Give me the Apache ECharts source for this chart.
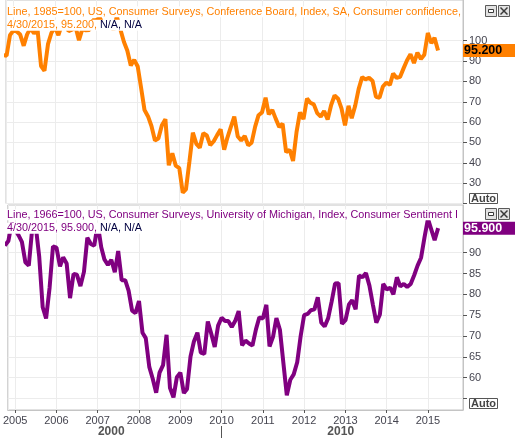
<!DOCTYPE html>
<html><head><meta charset="utf-8">
<script src="https://cdn.jsdelivr.net/npm/echarts@6/dist/echarts.min.js"></script>
<style>html,body{margin:0;padding:0;background:#fff}#c{width:515px;height:438px}</style>
</head><body><div id="c"></div>
<script>
// ---- data (monthly, first month Oct 2004) ----
const firstMonth = '2004-10';
const confBoard = [
  92.9, 92.6, 102.7,
  105.1, 104.4, 103.0, 97.5, 103.1, 106.2, 103.6, 105.5, 87.5, 85.2, 98.3, 103.8,
  106.8, 102.7, 107.5, 109.8, 104.7, 105.4, 107.0, 100.2, 105.9, 105.1, 105.3, 110.0,
  110.2, 111.2, 108.2, 106.3, 108.5, 105.3, 111.9, 105.6, 99.5, 95.2, 87.8, 90.6,
  87.3, 76.4, 65.9, 62.8, 58.1, 51.0, 51.9, 58.5, 61.4, 38.8, 44.7, 38.6,
  37.4, 25.3, 26.9, 40.8, 54.8, 49.3, 47.4, 54.5, 53.4, 48.7, 50.6, 53.6,
  56.5, 46.4, 52.3, 57.7, 62.7, 52.9, 51.0, 53.2, 48.6, 49.9, 57.8, 63.4,
  64.8, 72.0, 63.8, 66.0, 61.7, 57.6, 59.2, 45.2, 46.4, 40.9, 55.2, 64.8,
  61.5, 71.6, 69.5, 68.7, 64.4, 62.7, 65.4, 61.3, 68.4, 73.1, 71.5, 66.7,
  58.4, 68.0, 61.9, 68.1, 76.2, 82.1, 81.0, 81.8, 80.2, 72.4, 72.0, 77.5,
  79.4, 78.3, 83.9, 81.7, 82.2, 86.4, 90.3, 93.4, 89.0, 94.1, 91.0, 93.1,
  103.8, 98.8, 101.4, 95.2
];
const michigan = [
  91.7, 92.8, 97.1,
  95.5, 94.1, 92.6, 87.7, 86.9, 96.0, 96.5, 89.1, 76.9, 74.2, 81.6, 91.5,
  91.2, 86.7, 88.9, 87.4, 79.1, 84.9, 84.7, 82.0, 85.4, 93.6, 92.1, 91.7,
  96.9, 91.3, 88.4, 87.1, 88.3, 85.3, 90.4, 83.4, 83.4, 80.9, 76.1, 75.5,
  78.4, 70.8, 69.5, 62.6, 59.8, 56.4, 61.2, 63.0, 70.3, 57.6, 55.3, 60.1,
  61.2, 56.3, 57.3, 65.1, 68.7, 70.8, 66.0, 65.7, 73.5, 70.6, 67.4, 72.5,
  74.4, 73.6, 73.6, 72.2, 73.6, 76.0, 67.8, 68.9, 68.2, 67.7, 71.6, 74.5,
  74.2, 77.5, 67.5, 69.8, 74.3, 71.5, 63.7, 55.8, 59.5, 60.8, 63.7, 69.9,
  75.0, 75.3, 76.2, 76.4, 79.3, 73.2, 72.3, 74.3, 78.3, 82.6, 82.7, 72.9,
  73.8, 77.6, 78.6, 76.4, 84.5, 84.1, 85.1, 82.1, 77.5, 73.2, 75.1, 82.5,
  81.2, 81.6, 80.0, 84.1, 81.9, 82.5, 81.8, 82.5, 84.6, 86.9, 88.8, 93.6,
  98.1, 95.4, 93.0, 95.9
];
const topTickValues = [20, 30, 40, 50, 60, 70, 80, 90, 100];
const topLabelValues = [30, 40, 50, 60, 70, 80, 90, 100];
const botTickValues = [55, 60, 65, 70, 75, 80, 85, 90];
const botLabelValues = [60, 65, 70, 75, 80, 85, 90];
const decadeLabels = ['2000', '2010'];
const decadeLabelDates = ['2007-05-01', '2012-11-20'];
const decadeTickDates = ['2010-01-01'];
const lastDateText = '4/30/2015';
const topTitle = 'Line, 1985=100, US, Consumer Surveys, Conference Board, Index, SA, Consumer confidence,';
const botTitle = 'Line, 1966=100, US, Consumer Surveys, University of Michigan, Index, Consumer Sentiment I';

// ---- build ----
function ts(s) { const [y, m, d] = s.split('-').map(Number); return new Date(y, m - 1, d).getTime(); }
function monthList(start, n) {
  const [y, m] = start.split('-').map(Number);
  const out = [];
  for (let i = 0; i < n; i++) {
    const t = (m - 1) + i;
    out.push(new Date(y + Math.floor(t / 12), t % 12, 1).getTime());
  }
  return out;
}
const months = monthList(firstMonth, confBoard.length);
const ORANGE = '#ff8000', PURPLE = '#800080', NAVY = '#000040';
const GRIDC = '#ececec', BORDER = '#c4c4c4', LBL = '#454550';
const X_MIN = ts('2004-10-27'), X_MAX = ts('2015-11-07');
const YEAR = 365 * 86400000;
const FONT = 'Liberation Sans';

const lastConf = confBoard[confBoard.length - 1];
const lastMich = michigan[michigan.length - 1];

function header(line1, color, last) {
  const tok = c => ({ color: c, fontSize: 10.8, fontWeight: 'normal', lineHeight: 13.5, fontFamily: FONT, backgroundColor: '#fff' });
  return {
    text: '{a|' + line1 + '}\n{a|' + lastDateText + ', ' + last.toFixed(3) + ', }{n|N/A, N/A}',
    textStyle: { fontWeight: 'normal', fontSize: 10.8, rich: { a: tok(color), n: tok(NAVY) } }
  };
}

function icons(y) {
  return [
    { type: 'rect', shape: { x: 485.5, y: y + 0.5, width: 11, height: 11 }, style: { fill: '#e2e2e2', stroke: '#5a5a5a', lineWidth: 1 }, z: 20 },
    { type: 'rect', shape: { x: 488.5, y: y + 4.5, width: 5, height: 3 }, style: { fill: '#fff', stroke: '#3a3a3a', lineWidth: 1 }, z: 21 },
    { type: 'rect', shape: { x: 498.5, y: y + 0.5, width: 11, height: 11 }, style: { fill: '#e2e2e2', stroke: '#5a5a5a', lineWidth: 1 }, z: 20 },
    { type: 'line', shape: { x1: 500.5, y1: y + 2.5, x2: 507.5, y2: y + 9.5 }, style: { stroke: '#3a3a3a', lineWidth: 1.5 }, z: 21 },
    { type: 'line', shape: { x1: 507.5, y1: y + 2.5, x2: 500.5, y2: y + 9.5 }, style: { stroke: '#3a3a3a', lineWidth: 1.5 }, z: 21 }
  ];
}
function autoBox(y) {
  return [
    { type: 'rect', shape: { x: 469.5, y: y + 0.5, width: 28, height: 10 }, style: { fill: '#fff', stroke: '#555', lineWidth: 1 }, z: 20 },
    { type: 'text', x: 483.5, y: y + 6, style: { text: 'Auto', fill: '#444', font: 'bold 11px ' + FONT, align: 'center', verticalAlign: 'middle' }, z: 21 }
  ];
}

function markLabel(val, bg, fg) {
  return {
    silent: true, symbol: 'none', animation: false,
    lineStyle: { color: 'rgba(0,0,0,0)', width: 0, type: 'solid' },
    label: {
      show: true, position: 'end', distance: 0,
      formatter: p => Number(p.value).toFixed(3),
      backgroundColor: bg, color: fg, fontWeight: 'bold', fontSize: 12.5, fontFamily: FONT,
      width: 51, height: 12, lineHeight: 12, padding: [1, 0, 0, 1], align: 'left'
    },
    emphasis: { disabled: true },
    data: [{ yAxis: val }]
  };
}

const timeAxisBase = {
  type: 'time', min: X_MIN, max: X_MAX,
  minInterval: YEAR, maxInterval: YEAR + 86400000 * 1.5,
  splitLine: { show: true, lineStyle: { color: GRIDC, width: 1 } }
};

const option = {
  animation: false,
  backgroundColor: '#fff',
  textStyle: { fontFamily: FONT },
  title: [
    Object.assign({ left: 7, top: 5, padding: 0, z: 10 }, header(topTitle, ORANGE, lastConf)),
    Object.assign({ left: 7, top: 208, padding: 0, z: 10 }, header(botTitle, PURPLE, lastMich))
  ],
  grid: [
    { left: 6, right: 52, top: 0, height: 203.5, show: true, borderColor: BORDER, borderWidth: 1 },
    { left: 6, right: 52, top: 205, height: 205, show: true, borderColor: BORDER, borderWidth: 1 }
  ],
  xAxis: [
    Object.assign({}, timeAxisBase, {
      gridIndex: 0, axisLine: { show: false }, axisTick: { show: false }, axisLabel: { show: false }
    }),
    Object.assign({}, timeAxisBase, {
      gridIndex: 1,
      axisLine: { show: true, lineStyle: { color: BORDER } },
      axisTick: { show: true, length: 3, lineStyle: { color: '#555' } },
      axisLabel: { show: true, formatter: '{yyyy}', color: LBL, fontSize: 11, margin: 5, showMinLabel: false, showMaxLabel: false }
    }),
    {
      type: 'value', gridIndex: 1, min: X_MIN, max: X_MAX, position: 'bottom', offset: 16,
      axisLine: { show: false }, splitLine: { show: false },
      axisTick: { show: true, customValues: decadeTickDates.map(ts), length: 12, lineStyle: { color: '#555' } },
      axisLabel: {
        show: true, customValues: decadeLabelDates.map(ts), margin: 0,
        formatter: v => decadeLabels[new Date(v).getFullYear() < 2010 ? 0 : 1],
        color: '#555', fontSize: 12, fontWeight: 'bold'
      }
    }
  ],
  yAxis: [
    {
      type: 'value', gridIndex: 0, position: 'right', min: 20, max: 120, interval: 10,
      axisLine: { show: true, lineStyle: { color: BORDER } },
      axisTick: { show: true, length: 4, customValues: topTickValues, lineStyle: { color: '#555' } },
      axisLabel: { show: true, customValues: topLabelValues, color: LBL, fontSize: 11, margin: 6 },
      splitLine: { show: true, lineStyle: { color: GRIDC } }
    },
    {
      type: 'value', gridIndex: 1, position: 'right', min: 52.25, max: 101.45, splitNumber: 10,
      axisLine: { show: true, lineStyle: { color: BORDER } },
      axisTick: { show: true, length: 4, customValues: botTickValues, lineStyle: { color: '#555' } },
      axisLabel: { show: true, customValues: botLabelValues, color: LBL, fontSize: 11, margin: 6 },
      splitLine: { show: true, lineStyle: { color: GRIDC } }
    }
  ],
  series: [
    {
      type: 'line', xAxisIndex: 0, yAxisIndex: 0, symbol: 'none', z: 3,
      data: months.map((d, i) => [d, confBoard[i]]),
      lineStyle: { color: ORANGE, width: 4 }, itemStyle: { color: ORANGE },
      markLine: markLabel(lastConf, ORANGE, '#000')
    },
    {
      type: 'line', xAxisIndex: 1, yAxisIndex: 1, symbol: 'none', z: 3,
      data: months.map((d, i) => [d, michigan[i]]),
      lineStyle: { color: PURPLE, width: 4 }, itemStyle: { color: PURPLE },
      markLine: markLabel(lastMich, PURPLE, '#fff')
    }
  ],
  graphic: [].concat(icons(5), icons(208), autoBox(193), autoBox(398))
};

const chart = echarts.init(document.getElementById('c'), null, { renderer: 'canvas' });
chart.setOption(option);
</script>
</body></html>
